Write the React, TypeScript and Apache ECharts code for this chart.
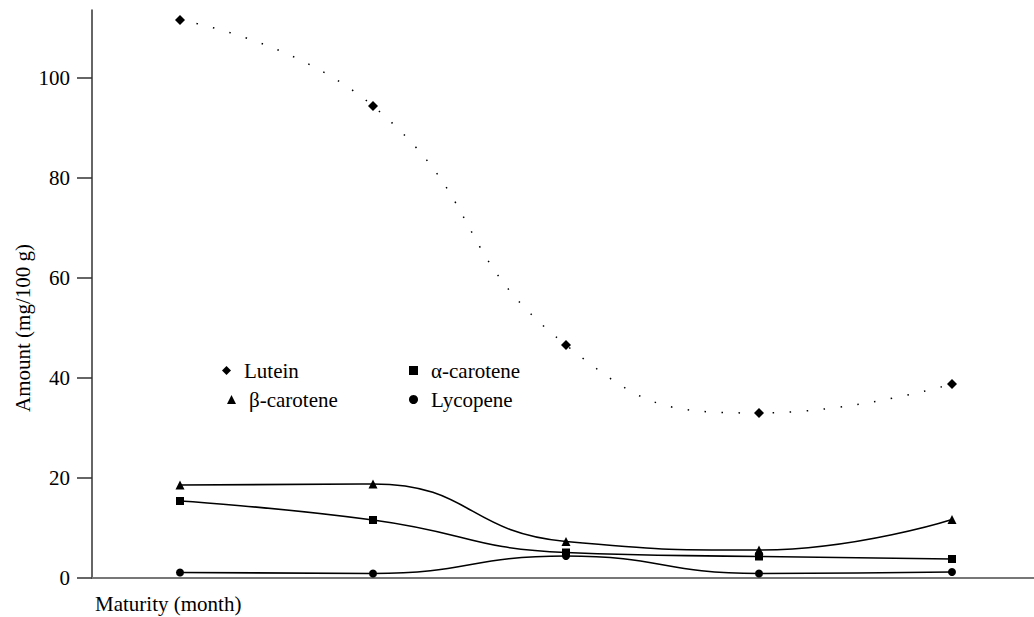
import React, { useEffect, useRef } from "react";
import * as echarts from "echarts";

const months = [1, 2, 3, 4, 5];
const lutein = [111.6, 94.4, 46.6, 33.0, 38.8];
const alphaCarotene = [15.4, 11.6, 5.1, 4.3, 3.8];
const betaCarotene = [18.6, 18.8, 7.3, 5.6, 11.7];
const lycopene = [1.1, 0.9, 4.4, 0.9, 1.2];
const yTicks = [0, 20, 40, 60, 80, 100];

const FONT = "Liberation Serif, Times New Roman, serif";

const pair = (ys: number[]) => months.map((m, i) => [m, ys[i]]);

export default function App() {
  const ref = useRef<HTMLDivElement>(null);
  useEffect(() => {
    if (!ref.current) return;
    const chart = echarts.init(ref.current, undefined, { renderer: "svg" });
    const solid = { color: "#000", width: 1.6 };
    const legendBase = {
      itemWidth: 9,
      itemHeight: 9,
      textStyle: { fontFamily: FONT, fontSize: 21, color: "#000", padding: [0, 0, 0, 8] },
      padding: 0,
      selectedMode: false,
    };
    chart.setOption({
      animation: false,
      backgroundColor: "#fff",
      textStyle: { fontFamily: FONT },
      grid: { left: 92, right: 0, top: 10, bottom: 39 },
      xAxis: {
        type: "value",
        min: 0.544,
        max: 5.425,
        axisLine: { show: true, lineStyle: { color: "#777", width: 2 } },
        axisTick: { show: false },
        axisLabel: { show: false },
        splitLine: { show: false },
      },
      yAxis: {
        type: "value",
        min: 0,
        max: 113.6,
        interval: 20,
        axisLine: { show: true, lineStyle: { color: "#333", width: 1.5 } },
        axisTick: { show: true, length: 15, customValues: yTicks, lineStyle: { color: "#333", width: 1.5 } },
        axisLabel: {
          customValues: yTicks,
          margin: 22,
          fontFamily: FONT,
          fontSize: 21,
          color: "#000",
        },
        splitLine: { show: false },
      },
      legend: [
        { ...legendBase, left: 222, top: 360, data: [{ name: "Lutein", icon: "diamond" }] },
        { ...legendBase, left: 409, top: 360, data: [{ name: "α-carotene", icon: "rect" }] },
        { ...legendBase, left: 227, top: 389, data: [{ name: "β-carotene", icon: "triangle" }] },
        { ...legendBase, left: 409, top: 389, data: [{ name: "Lycopene", icon: "circle" }] },
      ],
      graphic: [
        {
          type: "text",
          left: 95,
          top: 593,
          style: { text: "Maturity (month)", fontFamily: FONT, fontSize: 21, fill: "#000" },
        },
        {
          type: "text",
          x: 23,
          y: 328,
          rotation: Math.PI / 2,
          style: {
            text: "Amount (mg/100 g)",
            fontFamily: FONT,
            fontSize: 21,
            fill: "#000",
            align: "center",
            verticalAlign: "middle",
          },
        },
      ],
      series: [
        {
          name: "Lutein",
          type: "line",
          data: pair(lutein),
          smooth: 0.5,
          symbol: "diamond",
          symbolSize: 10,
          itemStyle: { color: "#000" },
          lineStyle: { color: "#000", width: 1.5, type: [1.5, 15.5] },
        },
        {
          name: "α-carotene",
          type: "line",
          data: pair(alphaCarotene),
          smooth: 0.5,
          symbol: "rect",
          symbolSize: 8,
          itemStyle: { color: "#000" },
          lineStyle: solid,
        },
        {
          name: "β-carotene",
          type: "line",
          data: pair(betaCarotene),
          smooth: 0.5,
          symbol: "triangle",
          symbolSize: 9,
          itemStyle: { color: "#000" },
          lineStyle: solid,
        },
        {
          name: "Lycopene",
          type: "line",
          data: pair(lycopene),
          smooth: 0.5,
          symbol: "circle",
          symbolSize: 8,
          itemStyle: { color: "#000" },
          lineStyle: solid,
        },
      ],
    });
    return () => chart.dispose();
  }, []);
  return (
    <div
      ref={ref}
      style={{ position: "absolute", left: 0, top: 0, width: 1034, height: 617, background: "#fff" }}
    />
  );
}
